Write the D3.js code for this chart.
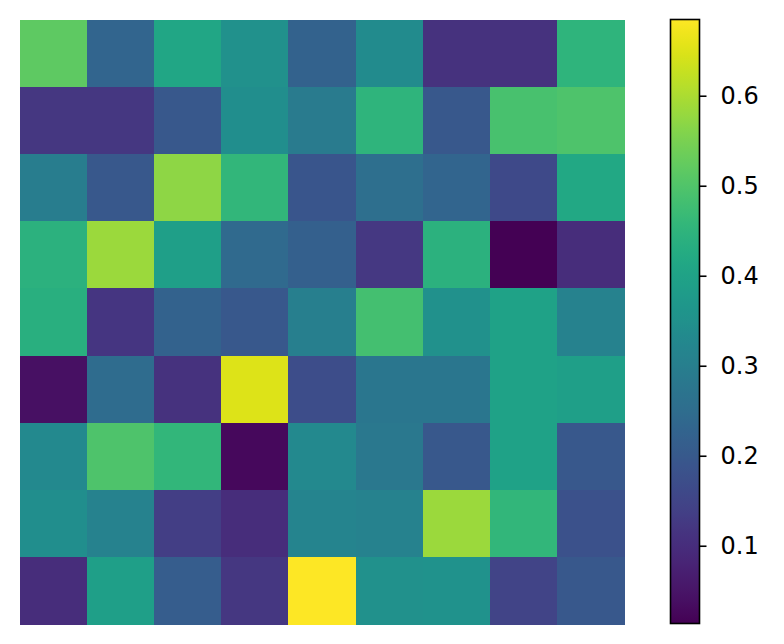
<!DOCTYPE html>
<html>
<head>
<meta charset="utf-8">
<script src="https://cdn.jsdelivr.net/npm/d3@7/dist/d3.min.js"></script>
<style>
  html, body { margin: 0; padding: 0; background: #fff; }
  svg { display: block; }
</style>
</head>
<body>
<svg id="chart" width="784" height="644"></svg>
<script>
// Data (rows top to bottom, columns left to right)
const rows = [0, 1, 2, 3, 4, 5, 6, 7, 8];
const cols = [0, 1, 2, 3, 4, 5, 6, 7, 8];
const row0 = [0.517, 0.229, 0.410, 0.350, 0.222, 0.336, 0.109, 0.109, 0.450];
const row1 = [0.120, 0.120, 0.196, 0.343, 0.290, 0.450, 0.196, 0.490, 0.497];
const row2 = [0.296, 0.196, 0.570, 0.456, 0.190, 0.256, 0.229, 0.162, 0.416];
const row3 = [0.443, 0.584, 0.390, 0.243, 0.216, 0.122, 0.443, 0.0136, 0.100];
const row4 = [0.436, 0.118, 0.222, 0.196, 0.300, 0.483, 0.350, 0.400, 0.310];
const row5 = [0.042, 0.249, 0.110, 0.650, 0.170, 0.276, 0.276, 0.400, 0.390];
const row6 = [0.330, 0.497, 0.456, 0.028, 0.330, 0.283, 0.196, 0.400, 0.196];
const row7 = [0.343, 0.310, 0.135, 0.100, 0.316, 0.310, 0.584, 0.456, 0.180];
const row8 = [0.100, 0.390, 0.210, 0.120, 0.6847, 0.350, 0.356, 0.149, 0.196];
const values = [row0, row1, row2, row3, row4, row5, row6, row7, row8];
const colorbarTicks = [0.1, 0.2, 0.3, 0.4, 0.5, 0.6];

const svg = d3.select("#chart");

const all = values.flat();
const vmin = d3.min(all), vmax = d3.max(all);
const color = d3.scaleSequential(d3.interpolateViridis).domain([vmin, vmax]);

const x = d3.scaleBand().domain(cols).range([20, 624]).paddingInner(0).paddingOuter(0);
const y = d3.scaleBand().domain(rows).range([20, 624]).paddingInner(0).paddingOuter(0);

const cells = [];
rows.forEach(r => cols.forEach(c => cells.push({ r, c, v: values[r][c] })));

svg.append("g").selectAll("rect").data(cells).join("rect")
  .attr("x", d => x(d.c))
  .attr("y", d => y(d.r))
  .attr("width", x.bandwidth() + 0.5)
  .attr("height", y.bandwidth() + 0.5)
  .attr("fill", d => color(d.v))
  .attr("shape-rendering", "crispEdges");

// Colorbar
const cbX = 670.5, cbW = 29, cbTop = 19.5, cbBot = 623.5;
const cbScale = d3.scaleLinear().domain([vmin, vmax]).range([cbBot, cbTop]);

const defs = svg.append("defs");
const grad = defs.append("linearGradient").attr("id", "cbgrad")
  .attr("x1", 0).attr("y1", 1).attr("x2", 0).attr("y2", 0);
d3.range(0, 1.0001, 0.02).forEach(t => {
  grad.append("stop").attr("offset", t).attr("stop-color", d3.interpolateViridis(t));
});

svg.append("rect")
  .attr("x", cbX).attr("y", cbTop)
  .attr("width", cbW).attr("height", cbBot - cbTop)
  .attr("fill", "url(#cbgrad)")
  .attr("stroke", "#000").attr("stroke-width", 1.6);

const axis = d3.axisRight(cbScale).tickValues(colorbarTicks).tickSize(7).tickPadding(14)
  .tickFormat(d3.format(".1f"));
const ag = svg.append("g").attr("transform", `translate(${cbX + cbW},0)`).call(axis);
ag.select(".domain").remove();
ag.selectAll(".tick line").attr("stroke", "#000").attr("stroke-width", 1.6);
ag.selectAll(".tick text")
  .attr("font-family", "DejaVu Sans")
  .attr("font-size", 24)
  .attr("fill", "#000");
</script>
</body>
</html>
